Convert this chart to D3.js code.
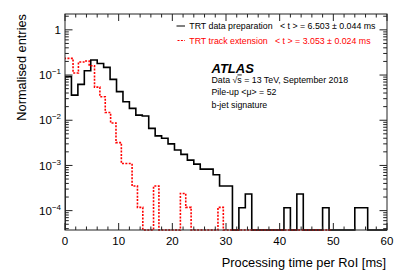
<!DOCTYPE html>
<html><head><meta charset="utf-8">
<script src="https://cdn.jsdelivr.net/npm/d3@7"></script>
<style>
body{margin:0;background:#fff}
svg{display:block}
text{font-family:"Liberation Sans",Arial,Helvetica,sans-serif;white-space:pre}
</style>
</head><body>
<svg id="c" width="407" height="276"></svg>
<script>
// ---- data ----
const blackBinStart = 0, blackBinWidth = 1.2;
const blackValues = [0.092,0.036,0.062,0.124,0.215,0.18,0.148,0.080,0.043,0.0257,
  0.0183,0.013,0.0124,0.0066,0.0045,0.0040,0.0030,0.0022,0.00176,0.00131,
  0.00107,0.00083,0.00083,0.00062,0.00035,0.00035,0,0.000116,0.000233,0,
  0,0,0,0,0.000116,0,0.000233,0,0,0,
  0.000116,0,0,0,0,0.000116,0.000116,0,0,0];
const redBinStart = -0.5, redBinWidth = 1.0;
const redValues = [0.234,0.234,0.111,0.194,0.204,0.16,0.054,0.033,0.0148,0.0087,
  0.0032,0.0011,0.0011,0.00035,0.000118,0,0,0.00035,0,0,
  0,0,0.00024,0.000118,0,0,0,0,0,0.000118,
  0,0,0,0,0,0,0,0,0,0,
  0,0,0,0,0,0,0,0,0,0];
const xTickValues = [0,10,20,30,40,50,60];
const yDecades = [0,-1,-2,-3,-4];
const legendLabels = ["TRT data preparation   < t > = 6.503 \u00b1 0.044 ms",
                      "TRT track extension   < t > = 3.053 \u00b1 0.024 ms"];
const xTitle = "Processing time per RoI [ms]";
const yTitle = "Normalised entries";

// ---- layout ----
const L = 65, R = 387, T = 14, B = 230;
const svg = d3.select("#c");
const x = d3.scaleLinear().domain([0,60]).range([L,R]);
const y = d3.scaleLog().domain([3.73e-5, 2.24]).range([B,T]);
const ymin = y.domain()[0];

svg.append("defs").append("clipPath").attr("id","clip")
  .append("rect").attr("x",L).attr("y",T).attr("width",R-L).attr("height",B-T+1.2);

function histPath(start, width, vals){
  const p = d3.path();
  const yy = v => y(Math.max(v, ymin));
  p.moveTo(x(start), B);
  vals.forEach((v,i)=>{
    const x0 = x(start + i*width), x1 = x(start + (i+1)*width);
    p.lineTo(x0, yy(v));
    p.lineTo(x1, yy(v));
  });
  p.lineTo(x(start + vals.length*width), B);
  return p.toString();
}

const g = svg.append("g").attr("clip-path","url(#clip)");
g.append("path").attr("d", histPath(blackBinStart, blackBinWidth, blackValues))
  .attr("fill","none").attr("stroke","#000").attr("stroke-width",1.6);
g.append("path").attr("d", histPath(redBinStart, redBinWidth, redValues))
  .attr("fill","none").attr("stroke","#ff0000").attr("stroke-width",1.6)
  .attr("stroke-dasharray","2,1.4");

// ---- frame & ticks ----
const ax = svg.append("g").attr("stroke","#222").attr("stroke-width",1);
ax.append("rect").attr("x",L).attr("y",T).attr("width",R-L).attr("height",B-T).attr("fill","none");

const xMinor = d3.range(0,61,2);
xMinor.forEach(v=>{
  const len = (v%10===0)?7:3.5;
  ax.append("line").attr("x1",x(v)).attr("x2",x(v)).attr("y1",B).attr("y2",B-len);
  ax.append("line").attr("x1",x(v)).attr("x2",x(v)).attr("y1",T).attr("y2",T+len);
});
const yTicksAll = [];
for(let d=-5; d<=0; d++){
  for(let m=1;m<=9;m++){
    const v = m*Math.pow(10,d);
    if(v>=ymin && v<=y.domain()[1]) yTicksAll.push({v, major:m===1});
  }
}
yTicksAll.forEach(t=>{
  const len = t.major?7.5:3.8;
  ax.append("line").attr("x1",L).attr("x2",L+len).attr("y1",y(t.v)).attr("y2",y(t.v));
  ax.append("line").attr("x1",R).attr("x2",R-len).attr("y1",y(t.v)).attr("y2",y(t.v));
});

// ---- tick labels ----
svg.append("g").selectAll("text").data(xTickValues).join("text")
  .attr("x",d=>x(d)).attr("y",244.5).attr("text-anchor","middle")
  .attr("font-size",11.5).attr("fill","#000").text(d=>d);

const yl = svg.append("g");
yDecades.forEach(d=>{
  const t = yl.append("text").attr("x",61).attr("y",y(Math.pow(10,d))+4.2)
    .attr("text-anchor","end").attr("font-size",11.5).attr("fill","#000");
  if(d===0){ t.text("1"); }
  else{
    t.append("tspan").text("10");
    t.append("tspan").attr("font-size",8).attr("dy",-5).text("\u2212"+(-d));
  }
});

// ---- axis titles ----
svg.append("text").attr("x",386).attr("y",267).attr("text-anchor","end")
  .attr("font-size",12.8).attr("fill","#000").text(xTitle);
svg.append("text").attr("transform","translate(26,14) rotate(-90)")
  .attr("text-anchor","end").attr("font-size",12.8).attr("fill","#000").text(yTitle);

// ---- legend ----
const lg = svg.append("g");
lg.append("line").attr("x1",176.5).attr("x2",185).attr("y1",26).attr("y2",26)
  .attr("stroke","#000").attr("stroke-width",1);
lg.append("line").attr("x1",177.5).attr("x2",185).attr("y1",40.5).attr("y2",40.5)
  .attr("stroke","#ff0000").attr("stroke-width",1.2).attr("stroke-dasharray","2,1.4");
lg.append("text").attr("x",189.3).attr("y",29.3).attr("font-size",8.8).attr("fill","#000").text(legendLabels[0]);
lg.append("text").attr("x",189.3).attr("y",43.8).attr("font-size",8.8).attr("fill","#ff0000").text(legendLabels[1]);

// ---- ATLAS label ----
svg.append("text").attr("x",211.5).attr("y",72.5).attr("font-size",13)
  .attr("font-weight","bold").attr("font-style","italic").attr("fill","#000").text("ATLAS");
const dt = svg.append("text").attr("x",211.5).attr("y",82.5).attr("font-size",8.8).attr("fill","#000");
dt.append("tspan").text("Data \u221a");
dt.append("tspan").attr("text-decoration","overline").style("text-decoration","overline").text("s");
dt.append("tspan").text(" = 13 TeV, September 2018");
svg.append("text").attr("x",211.5).attr("y",94.5).attr("font-size",8.8).attr("fill","#000").text("Pile-up <\u03bc> = 52");
svg.append("text").attr("x",211.5).attr("y",107.5).attr("font-size",8.8).attr("fill","#000").text("b-jet signature");
</script>
</body></html>
